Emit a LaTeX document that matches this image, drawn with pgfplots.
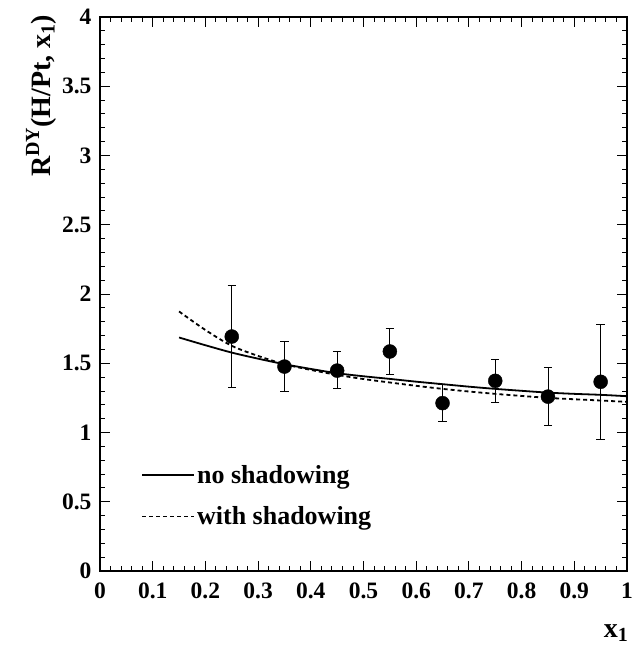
\documentclass[border=0pt]{standalone}
\usepackage{pgfplots}
\usepackage{pgfplotstable}
\pgfplotsset{compat=1.18}
\usepackage{fontspec}
\setmainfont{Liberation Serif}
\pgfplotstableread{
x y ep em
0.25 1.693 0.366 0.364
0.35 1.476 0.179 0.176
0.45 1.447 0.135 0.132
0.55 1.585 0.166 0.164
0.65 1.212 0.132 0.133
0.75 1.373 0.157 0.157
0.85 1.259 0.208 0.206
0.95 1.366 0.416 0.417
}\datatab
\begin{document}
\begin{tikzpicture}
\useasboundingbox (-100pt,-75pt) rectangle (533pt,571pt);
\begin{axis}[
  at={(0pt,0pt)}, anchor=south west,
  scale only axis, width=527pt, height=554pt,
  xmin=0, xmax=1, ymin=0, ymax=4,
  xtick={0,0.1,...,1}, ytick={0,0.5,...,4},
  minor x tick num=4, minor y tick num=4,
  xticklabels={0,0.1,0.2,0.3,0.4,0.5,0.6,0.7,0.8,0.9,1},
  yticklabels={0,0.5,1,1.5,2,2.5,3,3.5,4},
  tick align=inside, xtick pos=both, ytick pos=both,
  major tick length=10pt, minor tick length=5pt,
  every tick/.style={black, line width=0.9pt},
  axis line style={line width=1.3pt},
  ticklabel style={font=\fontsize{23.5}{23.5}\selectfont\bfseries},
  /pgf/number format/assume math mode=true,
  xticklabel style={yshift=-8pt},
  yticklabel style={xshift=-5pt},
  ylabel={\fontsize{28}{28}\selectfont\bfseries R\raisebox{0.85ex}{\fontsize{20}{20}\selectfont DY}(H/Pt, x\raisebox{-0.35ex}{\fontsize{20}{20}\selectfont 1})},
  ylabel style={at={(axis description cs:-0.112,1.01)}, anchor=east, rotate=0},
  xlabel={\fontsize{28}{28}\selectfont\bfseries x\raisebox{-0.35ex}{\fontsize{20}{20}\selectfont 1}},
  xlabel style={at={(axis description cs:0.979,-0.112)}, anchor=center},
  legend style={at={(axis description cs:0.078,0.195)}, anchor=north west, draw=none, fill=none, inner sep=0pt,
    font=\fontsize{26}{26}\selectfont\bfseries, row sep=18pt, cells={anchor=west}},
  legend image code/.code={\draw[#1] (0pt,0pt) -- (38pt,0pt); \path (0pt,0pt) -- (52pt,0pt);},
  clip=false,
]
\addplot[black, line width=1.8pt, smooth] coordinates {
(0.15,1.686) (0.2,1.63) (0.25,1.577) (0.3,1.533) (0.35,1.493) (0.4,1.459) (0.45,1.428) (0.5,1.406) (0.55,1.387) (0.6,1.367) (0.65,1.349) (0.7,1.331) (0.75,1.315) (0.8,1.301) (0.85,1.288) (0.9,1.279) (0.95,1.272) (1.0,1.262)
};
\addlegendentry{no shadowing}
\addplot[black, line width=1.8pt, dash pattern=on 4pt off 3pt, smooth] coordinates {
(0.15,1.874) (0.2,1.74) (0.25,1.626) (0.3,1.553) (0.35,1.493) (0.4,1.452) (0.45,1.416) (0.5,1.386) (0.55,1.361) (0.6,1.337) (0.65,1.315) (0.7,1.296) (0.75,1.279) (0.8,1.264) (0.85,1.25) (0.9,1.24) (0.95,1.231) (1.0,1.221)
};
\addlegendentry{with shadowing}
\addplot[black, only marks, mark=*, mark size=7pt,
  error bars/.cd, y dir=both, y explicit,
  error bar style={line width=0.8pt, black},
  error mark options={rotate=90, mark size=4.2pt, line width=0.8pt, black}]
table[x=x, y=y, y error plus=ep, y error minus=em] {\datatab};
\end{axis}
\end{tikzpicture}
\end{document}
